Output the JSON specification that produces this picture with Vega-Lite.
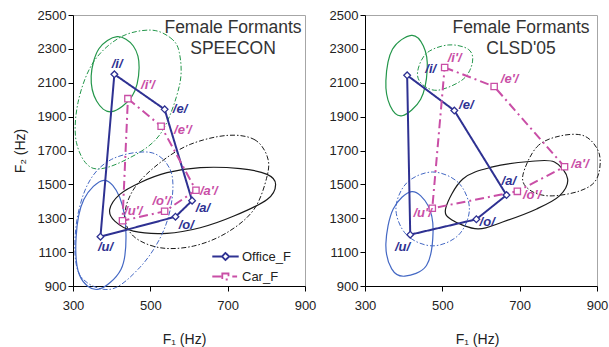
{
  "$schema": "https://vega.github.io/schema/vega-lite/v6.json",
  "background": "white",
  "padding": {"left": 12, "top": 8, "right": 0, "bottom": 0},
  "spacing": 60,
  "bounds": "flush",
  "config": {
    "font": "Liberation Sans",
    "view": {"stroke": "#a6a6a6", "strokeWidth": 1},
    "axis": {"grid": false, "domainColor": "#000000", "domainWidth": 1, "tickColor": "#000000", "tickSize": 5, "labelFontSize": 13, "labelColor": "#222222", "titleFontSize": 14, "titleFontWeight": "normal", "titleColor": "#222222", "labelFlush": false, "format": "d"},
    "axisX": {"labelPadding": 8, "titlePadding": 20},
    "axisY": {"labelPadding": 2, "titlePadding": 10}
  },
  "datasets": {
    "poly": [
      {"panel": "SPEECON", "series": "Office_F", "k": 1, "vowel": "i", "f1": 407, "f2": 2150},
      {"panel": "SPEECON", "series": "Office_F", "k": 2, "vowel": "e", "f1": 537, "f2": 1943},
      {"panel": "SPEECON", "series": "Office_F", "k": 3, "vowel": "a", "f1": 608, "f2": 1404},
      {"panel": "SPEECON", "series": "Office_F", "k": 4, "vowel": "o", "f1": 565, "f2": 1309},
      {"panel": "SPEECON", "series": "Office_F", "k": 5, "vowel": "u", "f1": 371, "f2": 1191},
      {"panel": "SPEECON", "series": "Car_F", "k": 1, "vowel": "i", "f1": 442, "f2": 2006},
      {"panel": "SPEECON", "series": "Car_F", "k": 2, "vowel": "e", "f1": 528, "f2": 1843},
      {"panel": "SPEECON", "series": "Car_F", "k": 3, "vowel": "a", "f1": 618, "f2": 1465},
      {"panel": "SPEECON", "series": "Car_F", "k": 4, "vowel": "o", "f1": 537, "f2": 1341},
      {"panel": "SPEECON", "series": "Car_F", "k": 5, "vowel": "u", "f1": 428, "f2": 1285},
      {"panel": "CLSD", "series": "Office_F", "k": 1, "vowel": "i", "f1": 409, "f2": 2144},
      {"panel": "CLSD", "series": "Office_F", "k": 2, "vowel": "e", "f1": 531, "f2": 1936},
      {"panel": "CLSD", "series": "Office_F", "k": 3, "vowel": "a", "f1": 666, "f2": 1437},
      {"panel": "CLSD", "series": "Office_F", "k": 4, "vowel": "o", "f1": 588, "f2": 1294},
      {"panel": "CLSD", "series": "Office_F", "k": 5, "vowel": "u", "f1": 417, "f2": 1203},
      {"panel": "CLSD", "series": "Car_F", "k": 1, "vowel": "i", "f1": 506, "f2": 2190},
      {"panel": "CLSD", "series": "Car_F", "k": 2, "vowel": "e", "f1": 634, "f2": 2078},
      {"panel": "CLSD", "series": "Car_F", "k": 3, "vowel": "a", "f1": 816, "f2": 1604},
      {"panel": "CLSD", "series": "Car_F", "k": 4, "vowel": "o", "f1": 694, "f2": 1459},
      {"panel": "CLSD", "series": "Car_F", "k": 5, "vowel": "u", "f1": 474, "f2": 1359}
    ],
    "labels": [
      {"panel": "SPEECON", "series": "Office_F", "label": "/i/", "f1": 414, "f2": 2209},
      {"panel": "SPEECON", "series": "Office_F", "label": "/e/", "f1": 577, "f2": 1943},
      {"panel": "SPEECON", "series": "Office_F", "label": "/a/", "f1": 636, "f2": 1362},
      {"panel": "SPEECON", "series": "Office_F", "label": "/o/", "f1": 593, "f2": 1260},
      {"panel": "SPEECON", "series": "Office_F", "label": "/u/", "f1": 384, "f2": 1132},
      {"panel": "SPEECON", "series": "Car_F", "label": "/i'/", "f1": 494, "f2": 2085},
      {"panel": "SPEECON", "series": "Car_F", "label": "/e'/", "f1": 584, "f2": 1819},
      {"panel": "SPEECON", "series": "Car_F", "label": "/a'/", "f1": 651, "f2": 1461},
      {"panel": "SPEECON", "series": "Car_F", "label": "/o'/", "f1": 529, "f2": 1402},
      {"panel": "SPEECON", "series": "Car_F", "label": "/u'/", "f1": 456, "f2": 1341},
      {"panel": "CLSD", "series": "Office_F", "label": "/i/", "f1": 470, "f2": 2180},
      {"panel": "CLSD", "series": "Office_F", "label": "/e/", "f1": 562, "f2": 1968},
      {"panel": "CLSD", "series": "Office_F", "label": "/a/", "f1": 672, "f2": 1522},
      {"panel": "CLSD", "series": "Office_F", "label": "/o/", "f1": 616, "f2": 1279},
      {"panel": "CLSD", "series": "Office_F", "label": "/u/", "f1": 397, "f2": 1129},
      {"panel": "CLSD", "series": "Car_F", "label": "/i'/", "f1": 532, "f2": 2249},
      {"panel": "CLSD", "series": "Car_F", "label": "/e'/", "f1": 674, "f2": 2121},
      {"panel": "CLSD", "series": "Car_F", "label": "/a'/", "f1": 856, "f2": 1620},
      {"panel": "CLSD", "series": "Car_F", "label": "/o'/", "f1": 732, "f2": 1436},
      {"panel": "CLSD", "series": "Car_F", "label": "/u'/", "f1": 449, "f2": 1333}
    ],
    "ellipses": [
      {"panel": "SPEECON", "series": "Office_F", "vowel": "i", "k": 1, "f1": 414, "f2": 2372},
      {"panel": "SPEECON", "series": "Office_F", "vowel": "i", "k": 2, "f1": 456, "f2": 2317},
      {"panel": "SPEECON", "series": "Office_F", "vowel": "i", "k": 3, "f1": 471, "f2": 2189},
      {"panel": "SPEECON", "series": "Office_F", "vowel": "i", "k": 4, "f1": 453, "f2": 2022},
      {"panel": "SPEECON", "series": "Office_F", "vowel": "i", "k": 5, "f1": 400, "f2": 1929},
      {"panel": "SPEECON", "series": "Office_F", "vowel": "i", "k": 6, "f1": 361, "f2": 1992},
      {"panel": "SPEECON", "series": "Office_F", "vowel": "i", "k": 7, "f1": 347, "f2": 2140},
      {"panel": "SPEECON", "series": "Office_F", "vowel": "i", "k": 8, "f1": 367, "f2": 2301},
      {"panel": "SPEECON", "series": "Car_F", "vowel": "i", "k": 1, "f1": 499, "f2": 2411},
      {"panel": "SPEECON", "series": "Car_F", "vowel": "i", "k": 2, "f1": 551, "f2": 2367},
      {"panel": "SPEECON", "series": "Car_F", "vowel": "i", "k": 3, "f1": 575, "f2": 2278},
      {"panel": "SPEECON", "series": "Car_F", "vowel": "i", "k": 4, "f1": 575, "f2": 2081},
      {"panel": "SPEECON", "series": "Car_F", "vowel": "i", "k": 5, "f1": 525, "f2": 1795},
      {"panel": "SPEECON", "series": "Car_F", "vowel": "i", "k": 6, "f1": 439, "f2": 1648},
      {"panel": "SPEECON", "series": "Car_F", "vowel": "i", "k": 7, "f1": 352, "f2": 1595},
      {"panel": "SPEECON", "series": "Car_F", "vowel": "i", "k": 8, "f1": 309, "f2": 1746},
      {"panel": "SPEECON", "series": "Car_F", "vowel": "i", "k": 9, "f1": 313, "f2": 1983},
      {"panel": "SPEECON", "series": "Car_F", "vowel": "i", "k": 10, "f1": 352, "f2": 2219},
      {"panel": "SPEECON", "series": "Car_F", "vowel": "i", "k": 11, "f1": 421, "f2": 2367},
      {"panel": "SPEECON", "series": "Office_F", "vowel": "u", "k": 1, "f1": 380, "f2": 1524},
      {"panel": "SPEECON", "series": "Office_F", "vowel": "u", "k": 2, "f1": 421, "f2": 1423},
      {"panel": "SPEECON", "series": "Office_F", "vowel": "u", "k": 3, "f1": 437, "f2": 1205},
      {"panel": "SPEECON", "series": "Office_F", "vowel": "u", "k": 4, "f1": 424, "f2": 998},
      {"panel": "SPEECON", "series": "Office_F", "vowel": "u", "k": 5, "f1": 364, "f2": 880},
      {"panel": "SPEECON", "series": "Office_F", "vowel": "u", "k": 6, "f1": 317, "f2": 963},
      {"panel": "SPEECON", "series": "Office_F", "vowel": "u", "k": 7, "f1": 308, "f2": 1187},
      {"panel": "SPEECON", "series": "Office_F", "vowel": "u", "k": 8, "f1": 328, "f2": 1411},
      {"panel": "SPEECON", "series": "Car_F", "vowel": "u", "k": 1, "f1": 499, "f2": 1689},
      {"panel": "SPEECON", "series": "Car_F", "vowel": "u", "k": 2, "f1": 551, "f2": 1589},
      {"panel": "SPEECON", "series": "Car_F", "vowel": "u", "k": 3, "f1": 556, "f2": 1411},
      {"panel": "SPEECON", "series": "Car_F", "vowel": "u", "k": 4, "f1": 530, "f2": 1205},
      {"panel": "SPEECON", "series": "Car_F", "vowel": "u", "k": 5, "f1": 473, "f2": 1010},
      {"panel": "SPEECON", "series": "Car_F", "vowel": "u", "k": 6, "f1": 395, "f2": 880},
      {"panel": "SPEECON", "series": "Car_F", "vowel": "u", "k": 7, "f1": 317, "f2": 968},
      {"panel": "SPEECON", "series": "Car_F", "vowel": "u", "k": 8, "f1": 307, "f2": 1234},
      {"panel": "SPEECON", "series": "Car_F", "vowel": "u", "k": 9, "f1": 338, "f2": 1500},
      {"panel": "SPEECON", "series": "Car_F", "vowel": "u", "k": 10, "f1": 400, "f2": 1648},
      {"panel": "SPEECON", "series": "Office_F", "vowel": "a", "k": 1, "f1": 395, "f2": 1352},
      {"panel": "SPEECON", "series": "Office_F", "vowel": "a", "k": 2, "f1": 421, "f2": 1441},
      {"panel": "SPEECON", "series": "Office_F", "vowel": "a", "k": 3, "f1": 473, "f2": 1510},
      {"panel": "SPEECON", "series": "Office_F", "vowel": "a", "k": 4, "f1": 543, "f2": 1569},
      {"panel": "SPEECON", "series": "Office_F", "vowel": "a", "k": 5, "f1": 629, "f2": 1599},
      {"panel": "SPEECON", "series": "Office_F", "vowel": "a", "k": 6, "f1": 733, "f2": 1593},
      {"panel": "SPEECON", "series": "Office_F", "vowel": "a", "k": 7, "f1": 802, "f2": 1559},
      {"panel": "SPEECON", "series": "Office_F", "vowel": "a", "k": 8, "f1": 824, "f2": 1500},
      {"panel": "SPEECON", "series": "Office_F", "vowel": "a", "k": 9, "f1": 802, "f2": 1411},
      {"panel": "SPEECON", "series": "Office_F", "vowel": "a", "k": 10, "f1": 716, "f2": 1313},
      {"panel": "SPEECON", "series": "Office_F", "vowel": "a", "k": 11, "f1": 629, "f2": 1244},
      {"panel": "SPEECON", "series": "Office_F", "vowel": "a", "k": 12, "f1": 543, "f2": 1211},
      {"panel": "SPEECON", "series": "Office_F", "vowel": "a", "k": 13, "f1": 456, "f2": 1224},
      {"panel": "SPEECON", "series": "Office_F", "vowel": "a", "k": 14, "f1": 408, "f2": 1283},
      {"panel": "SPEECON", "series": "Car_F", "vowel": "a", "k": 1, "f1": 698, "f2": 1789},
      {"panel": "SPEECON", "series": "Car_F", "vowel": "a", "k": 2, "f1": 768, "f2": 1766},
      {"panel": "SPEECON", "series": "Car_F", "vowel": "a", "k": 3, "f1": 802, "f2": 1667},
      {"panel": "SPEECON", "series": "Car_F", "vowel": "a", "k": 4, "f1": 802, "f2": 1549},
      {"panel": "SPEECON", "series": "Car_F", "vowel": "a", "k": 5, "f1": 768, "f2": 1352},
      {"panel": "SPEECON", "series": "Car_F", "vowel": "a", "k": 6, "f1": 698, "f2": 1215},
      {"panel": "SPEECON", "series": "Car_F", "vowel": "a", "k": 7, "f1": 612, "f2": 1136},
      {"panel": "SPEECON", "series": "Car_F", "vowel": "a", "k": 8, "f1": 525, "f2": 1126},
      {"panel": "SPEECON", "series": "Car_F", "vowel": "a", "k": 9, "f1": 456, "f2": 1195},
      {"panel": "SPEECON", "series": "Car_F", "vowel": "a", "k": 10, "f1": 434, "f2": 1323},
      {"panel": "SPEECON", "series": "Car_F", "vowel": "a", "k": 11, "f1": 460, "f2": 1482},
      {"panel": "SPEECON", "series": "Car_F", "vowel": "a", "k": 12, "f1": 525, "f2": 1628},
      {"panel": "SPEECON", "series": "Car_F", "vowel": "a", "k": 13, "f1": 603, "f2": 1736},
      {"panel": "CLSD", "series": "Office_F", "vowel": "i", "k": 1, "f1": 420, "f2": 2380},
      {"panel": "CLSD", "series": "Office_F", "vowel": "i", "k": 2, "f1": 451, "f2": 2317},
      {"panel": "CLSD", "series": "Office_F", "vowel": "i", "k": 3, "f1": 461, "f2": 2180},
      {"panel": "CLSD", "series": "Office_F", "vowel": "i", "k": 4, "f1": 444, "f2": 2003},
      {"panel": "CLSD", "series": "Office_F", "vowel": "i", "k": 5, "f1": 396, "f2": 1905},
      {"panel": "CLSD", "series": "Office_F", "vowel": "i", "k": 6, "f1": 365, "f2": 1964},
      {"panel": "CLSD", "series": "Office_F", "vowel": "i", "k": 7, "f1": 354, "f2": 2111},
      {"panel": "CLSD", "series": "Office_F", "vowel": "i", "k": 8, "f1": 371, "f2": 2298},
      {"panel": "CLSD", "series": "Car_F", "vowel": "i", "k": 1, "f1": 515, "f2": 2323},
      {"panel": "CLSD", "series": "Car_F", "vowel": "i", "k": 2, "f1": 567, "f2": 2298},
      {"panel": "CLSD", "series": "Car_F", "vowel": "i", "k": 3, "f1": 578, "f2": 2223},
      {"panel": "CLSD", "series": "Car_F", "vowel": "i", "k": 4, "f1": 554, "f2": 2121},
      {"panel": "CLSD", "series": "Car_F", "vowel": "i", "k": 5, "f1": 489, "f2": 2056},
      {"panel": "CLSD", "series": "Car_F", "vowel": "i", "k": 6, "f1": 448, "f2": 2091},
      {"panel": "CLSD", "series": "Car_F", "vowel": "i", "k": 7, "f1": 436, "f2": 2164},
      {"panel": "CLSD", "series": "Car_F", "vowel": "i", "k": 8, "f1": 459, "f2": 2274},
      {"panel": "CLSD", "series": "Office_F", "vowel": "u", "k": 1, "f1": 421, "f2": 1457},
      {"panel": "CLSD", "series": "Office_F", "vowel": "u", "k": 2, "f1": 463, "f2": 1375},
      {"panel": "CLSD", "series": "Office_F", "vowel": "u", "k": 3, "f1": 476, "f2": 1218},
      {"panel": "CLSD", "series": "Office_F", "vowel": "u", "k": 4, "f1": 459, "f2": 1021},
      {"panel": "CLSD", "series": "Office_F", "vowel": "u", "k": 5, "f1": 403, "f2": 958},
      {"panel": "CLSD", "series": "Office_F", "vowel": "u", "k": 6, "f1": 369, "f2": 1001},
      {"panel": "CLSD", "series": "Office_F", "vowel": "u", "k": 7, "f1": 354, "f2": 1149},
      {"panel": "CLSD", "series": "Office_F", "vowel": "u", "k": 8, "f1": 373, "f2": 1355},
      {"panel": "CLSD", "series": "Car_F", "vowel": "u", "k": 1, "f1": 475, "f2": 1573},
      {"panel": "CLSD", "series": "Car_F", "vowel": "u", "k": 2, "f1": 542, "f2": 1509},
      {"panel": "CLSD", "series": "Car_F", "vowel": "u", "k": 3, "f1": 570, "f2": 1355},
      {"panel": "CLSD", "series": "Car_F", "vowel": "u", "k": 4, "f1": 542, "f2": 1201},
      {"panel": "CLSD", "series": "Car_F", "vowel": "u", "k": 5, "f1": 475, "f2": 1137},
      {"panel": "CLSD", "series": "Car_F", "vowel": "u", "k": 6, "f1": 408, "f2": 1201},
      {"panel": "CLSD", "series": "Car_F", "vowel": "u", "k": 7, "f1": 380, "f2": 1355},
      {"panel": "CLSD", "series": "Car_F", "vowel": "u", "k": 8, "f1": 408, "f2": 1509},
      {"panel": "CLSD", "series": "Office_F", "vowel": "a", "k": 1, "f1": 509, "f2": 1361},
      {"panel": "CLSD", "series": "Office_F", "vowel": "a", "k": 2, "f1": 553, "f2": 1532},
      {"panel": "CLSD", "series": "Office_F", "vowel": "a", "k": 3, "f1": 630, "f2": 1603},
      {"panel": "CLSD", "series": "Office_F", "vowel": "a", "k": 4, "f1": 726, "f2": 1635},
      {"panel": "CLSD", "series": "Office_F", "vowel": "a", "k": 5, "f1": 790, "f2": 1632},
      {"panel": "CLSD", "series": "Office_F", "vowel": "a", "k": 6, "f1": 824, "f2": 1532},
      {"panel": "CLSD", "series": "Office_F", "vowel": "a", "k": 7, "f1": 803, "f2": 1432},
      {"panel": "CLSD", "series": "Office_F", "vowel": "a", "k": 8, "f1": 744, "f2": 1355},
      {"panel": "CLSD", "series": "Office_F", "vowel": "a", "k": 9, "f1": 656, "f2": 1278},
      {"panel": "CLSD", "series": "Office_F", "vowel": "a", "k": 10, "f1": 592, "f2": 1237},
      {"panel": "CLSD", "series": "Office_F", "vowel": "a", "k": 11, "f1": 525, "f2": 1290},
      {"panel": "CLSD", "series": "Car_F", "vowel": "a", "k": 1, "f1": 708, "f2": 1550},
      {"panel": "CLSD", "series": "Car_F", "vowel": "a", "k": 2, "f1": 744, "f2": 1720},
      {"panel": "CLSD", "series": "Car_F", "vowel": "a", "k": 3, "f1": 803, "f2": 1785},
      {"panel": "CLSD", "series": "Car_F", "vowel": "a", "k": 4, "f1": 868, "f2": 1785},
      {"panel": "CLSD", "series": "Car_F", "vowel": "a", "k": 5, "f1": 906, "f2": 1679},
      {"panel": "CLSD", "series": "Car_F", "vowel": "a", "k": 6, "f1": 899, "f2": 1532},
      {"panel": "CLSD", "series": "Car_F", "vowel": "a", "k": 7, "f1": 855, "f2": 1461},
      {"panel": "CLSD", "series": "Car_F", "vowel": "a", "k": 8, "f1": 777, "f2": 1432},
      {"panel": "CLSD", "series": "Car_F", "vowel": "a", "k": 9, "f1": 726, "f2": 1467}
    ]
  },
  "hconcat": [
    {
      "width": 232,
      "height": 271,
      "title": {"text": ["Female Formants", "SPEECON"], "frame": "group", "anchor": "end", "align": "center", "dx": -72, "dy": 48, "baseline": "top", "offset": 0, "fontSize": 17.5, "fontWeight": "normal", "color": "#333333", "lineHeight": 21},
      "encoding": {
        "x": {"field": "f1", "type": "quantitative", "scale": {"domain": [300, 900], "nice": false, "zero": false}, "axis": {"values": [300, 500, 700, 900], "title": "F₁ (Hz)", "titleX": 111}},
        "y": {"field": "f2", "type": "quantitative", "scale": {"domain": [900, 2500], "nice": false, "zero": false}, "axis": {"values": [900, 1100, 1300, 1500, 1700, 1900, 2100, 2300, 2500], "title": "F₂ (Hz)"}}
      },
      "layer": [
        {
          "data": {"name": "ellipses"},
          "transform": [{"filter": "datum.panel == 'SPEECON' && datum.series == 'Office_F'"}],
          "mark": {"type": "line", "interpolate": "cardinal-closed", "strokeWidth": 1.2},
          "encoding": {
            "order": {"field": "k", "type": "quantitative"},
            "stroke": {"field": "vowel", "type": "nominal", "scale": {"domain": ["i", "u", "a"], "range": ["#23964a", "#4468c4", "#1a1a1a"]}, "legend": null}
          }
        },
        {
          "data": {"name": "ellipses"},
          "transform": [{"filter": "datum.panel == 'SPEECON' && datum.series == 'Car_F'"}],
          "mark": {"type": "line", "interpolate": "cardinal-closed", "strokeWidth": 1, "strokeDash": [5, 2, 1.5, 2]},
          "encoding": {
            "order": {"field": "k", "type": "quantitative"},
            "stroke": {"field": "vowel", "type": "nominal", "scale": {"domain": ["i", "u", "a"], "range": ["#23964a", "#4468c4", "#1a1a1a"]}, "legend": null}
          }
        },
        {
          "data": {"name": "poly"},
          "transform": [{"filter": "datum.panel == 'SPEECON'"}],
          "mark": {"type": "line", "interpolate": "linear-closed", "strokeWidth": 2},
          "encoding": {
            "order": {"field": "k", "type": "quantitative"},
            "color": {"field": "series", "type": "nominal", "scale": {"domain": ["Office_F", "Car_F"], "range": ["#2e3192", "#c94ea6"]},
              "legend": {"title": null, "orient": "none", "legendX": 146, "legendY": 235, "labelFontSize": 13, "labelColor": "#222222", "labelOffset": 10, "rowPadding": 5, "symbolSize": 64, "symbolStrokeWidth": 1.8, "symbolFillColor": "white",
                "encode": {"symbols": {"update": {"shape": {"signal": "datum.value == 'Office_F' ? 'M-3.3,0L-0.9,0M0.9,0L3.3,0M-0.9,0L0,-0.9L0.9,0L0,0.9Z' : 'M-3.3,0L-0.8,0M-0.8,-0.75L0.75,-0.75L0.75,0.75L-0.8,0.75ZM1.7,0L2.9,0'"}, "size": {"value": 64}, "fill": {"value": "white"}, "stroke": {"signal": "datum.value == 'Office_F' ? '#2e3192' : '#c94ea6'"}, "strokeDash": {"value": [1, 0]}, "opacity": {"value": 1}}}}}},
            "strokeDash": {"field": "series", "type": "nominal", "scale": {"domain": ["Office_F", "Car_F"], "range": [[1, 0], [9, 4, 2, 4]]}, "legend": null}
          }
        },
        {
          "data": {"name": "poly"},
          "transform": [{"filter": "datum.panel == 'SPEECON' && datum.series == 'Office_F'"}],
          "mark": {"type": "point", "shape": "diamond", "filled": false, "fill": "white", "stroke": "#2e3192", "opacity": 1, "strokeWidth": 1.3, "size": 45}
        },
        {
          "data": {"name": "poly"},
          "transform": [{"filter": "datum.panel == 'SPEECON' && datum.series == 'Car_F'"}],
          "mark": {"type": "point", "shape": "square", "filled": false, "fill": "white", "stroke": "#c94ea6", "opacity": 1, "strokeWidth": 1.3, "size": 40}
        },
        {
          "data": {"name": "labels"},
          "transform": [{"filter": "datum.panel == 'SPEECON' && datum.series == 'Office_F'"}],
          "mark": {"type": "text", "fontSize": 13, "fontWeight": "bold", "fontStyle": "italic", "fill": "#2e3192"},
          "encoding": {"text": {"field": "label"}}
        },
        {
          "data": {"name": "labels"},
          "transform": [{"filter": "datum.panel == 'SPEECON' && datum.series == 'Car_F'"}],
          "mark": {"type": "text", "fontSize": 13, "fontWeight": "bold", "fontStyle": "italic", "fill": "#c94ea6"},
          "encoding": {"text": {"field": "label"}}
        }
      ]
    },
    {
      "width": 232,
      "height": 271,
      "title": {"text": ["Female Formants", "CLSD'05"], "frame": "group", "anchor": "end", "align": "center", "dx": -76, "dy": 48, "baseline": "top", "offset": 0, "fontSize": 17.5, "fontWeight": "normal", "color": "#333333", "lineHeight": 21},
      "encoding": {
        "x": {"field": "f1", "type": "quantitative", "scale": {"domain": [300, 900], "nice": false, "zero": false}, "axis": {"values": [300, 500, 700, 900], "title": "F₁ (Hz)", "titleX": 112}},
        "y": {"field": "f2", "type": "quantitative", "scale": {"domain": [900, 2500], "nice": false, "zero": false}, "axis": {"values": [900, 1100, 1300, 1500, 1700, 1900, 2100, 2300, 2500], "title": null}}
      },
      "layer": [
        {
          "data": {"name": "ellipses"},
          "transform": [{"filter": "datum.panel == 'CLSD' && datum.series == 'Office_F'"}],
          "mark": {"type": "line", "interpolate": "cardinal-closed", "strokeWidth": 1.2},
          "encoding": {
            "order": {"field": "k", "type": "quantitative"},
            "stroke": {"field": "vowel", "type": "nominal", "scale": {"domain": ["i", "u", "a"], "range": ["#23964a", "#4468c4", "#1a1a1a"]}, "legend": null}
          }
        },
        {
          "data": {"name": "ellipses"},
          "transform": [{"filter": "datum.panel == 'CLSD' && datum.series == 'Car_F'"}],
          "mark": {"type": "line", "interpolate": "cardinal-closed", "strokeWidth": 1, "strokeDash": [5, 2, 1.5, 2]},
          "encoding": {
            "order": {"field": "k", "type": "quantitative"},
            "stroke": {"field": "vowel", "type": "nominal", "scale": {"domain": ["i", "u", "a"], "range": ["#23964a", "#4468c4", "#1a1a1a"]}, "legend": null}
          }
        },
        {
          "data": {"name": "poly"},
          "transform": [{"filter": "datum.panel == 'CLSD'"}],
          "mark": {"type": "line", "interpolate": "linear-closed", "strokeWidth": 2},
          "encoding": {
            "order": {"field": "k", "type": "quantitative"},
            "color": {"field": "series", "type": "nominal", "scale": {"domain": ["Office_F", "Car_F"], "range": ["#2e3192", "#c94ea6"]},
              "legend": {"title": null, "orient": "none", "legendX": 146, "legendY": 237, "labelFontSize": 13, "labelColor": "#222222", "labelOffset": 10, "rowPadding": 5, "symbolSize": 64, "symbolStrokeWidth": 1.8, "symbolFillColor": "white",
                "encode": {"symbols": {"update": {"shape": {"signal": "datum.value == 'Office_F' ? 'M-3.3,0L-0.9,0M0.9,0L3.3,0M-0.9,0L0,-0.9L0.9,0L0,0.9Z' : 'M-3.3,0L-0.8,0M-0.8,-0.75L0.75,-0.75L0.75,0.75L-0.8,0.75ZM1.7,0L2.9,0'"}, "size": {"value": 64}, "fill": {"value": "white"}, "stroke": {"signal": "datum.value == 'Office_F' ? '#2e3192' : '#c94ea6'"}, "strokeDash": {"value": [1, 0]}, "opacity": {"value": 1}}}}}},
            "strokeDash": {"field": "series", "type": "nominal", "scale": {"domain": ["Office_F", "Car_F"], "range": [[1, 0], [9, 4, 2, 4]]}, "legend": null}
          }
        },
        {
          "data": {"name": "poly"},
          "transform": [{"filter": "datum.panel == 'CLSD' && datum.series == 'Office_F'"}],
          "mark": {"type": "point", "shape": "diamond", "filled": false, "fill": "white", "stroke": "#2e3192", "opacity": 1, "strokeWidth": 1.3, "size": 45}
        },
        {
          "data": {"name": "poly"},
          "transform": [{"filter": "datum.panel == 'CLSD' && datum.series == 'Car_F'"}],
          "mark": {"type": "point", "shape": "square", "filled": false, "fill": "white", "stroke": "#c94ea6", "opacity": 1, "strokeWidth": 1.3, "size": 40}
        },
        {
          "data": {"name": "labels"},
          "transform": [{"filter": "datum.panel == 'CLSD' && datum.series == 'Office_F'"}],
          "mark": {"type": "text", "fontSize": 13, "fontWeight": "bold", "fontStyle": "italic", "fill": "#2e3192"},
          "encoding": {"text": {"field": "label"}}
        },
        {
          "data": {"name": "labels"},
          "transform": [{"filter": "datum.panel == 'CLSD' && datum.series == 'Car_F'"}],
          "mark": {"type": "text", "fontSize": 13, "fontWeight": "bold", "fontStyle": "italic", "fill": "#c94ea6"},
          "encoding": {"text": {"field": "label"}}
        }
      ]
    }
  ]
}
